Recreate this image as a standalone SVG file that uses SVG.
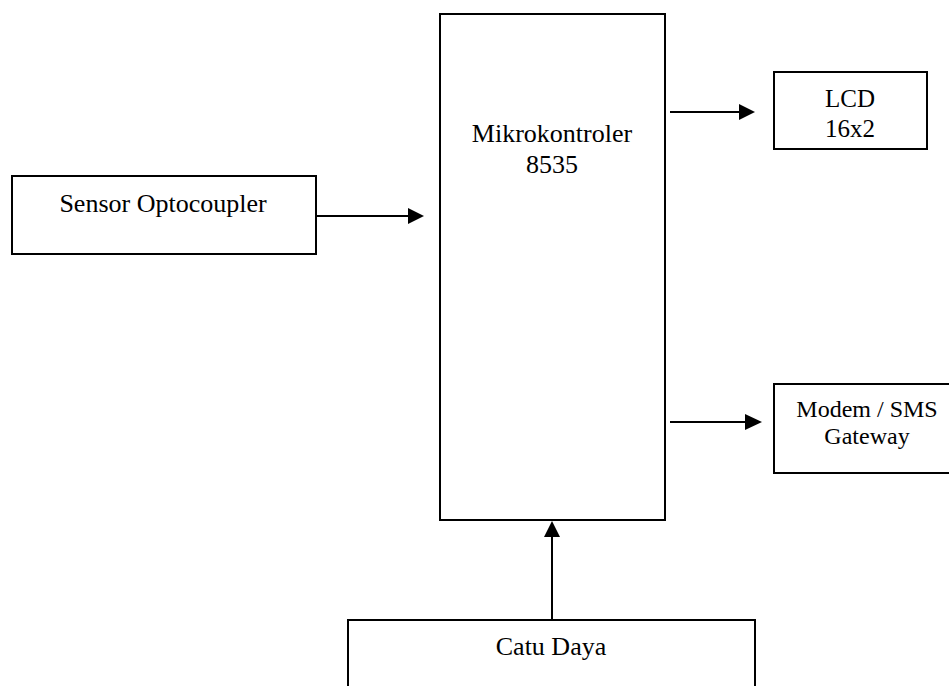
<svg xmlns="http://www.w3.org/2000/svg" width="949" height="686" viewBox="0 0 949 686">
<style>
.box{fill:#fff;stroke:#000;stroke-width:2}
.t{font-family:"Liberation Serif","Times New Roman",serif;fill:#000;text-anchor:middle}
.c{stroke:#000;stroke-width:2;fill:none}
.h{fill:#000;stroke:none}
</style>
<rect width="949" height="686" fill="#fff"/>
<g id="sensor">
<rect class="box" x="12" y="176" width="304" height="78"/>
<text class="t" x="163" y="212" font-size="26">Sensor Optocoupler</text>
</g>
<g id="mikro">
<rect class="box" x="440" y="14" width="225" height="506"/>
<text class="t" x="552" y="142" font-size="26">Mikrokontroler</text>
<text class="t" x="552" y="173" font-size="26">8535</text>
</g>
<g id="lcd">
<rect class="box" x="774" y="72" width="153" height="77"/>
<text class="t" x="850" y="107" font-size="25">LCD</text>
<text class="t" x="850" y="137" font-size="25">16x2</text>
</g>
<g id="modem">
<rect class="box" x="774" y="384" width="190" height="89"/>
<text class="t" x="867" y="417" font-size="24">Modem / SMS</text>
<text class="t" x="867" y="444" font-size="24">Gateway</text>
</g>
<g id="catu">
<path class="c" d="M348 690 V620 H755 V690"/>
<text class="t" x="551" y="655" font-size="26">Catu Daya</text>
</g>
<g id="connectors">
<line class="c" x1="316" y1="216" x2="409" y2="216"/>
<polygon class="h" points="408,208 424,216 408,224"/>
<line class="c" x1="670" y1="112" x2="740" y2="112"/>
<polygon class="h" points="739,104 755,112 739,120"/>
<line class="c" x1="670" y1="422" x2="746" y2="422"/>
<polygon class="h" points="745,414 762,422 745,430"/>
<line class="c" x1="552" y1="620" x2="552" y2="536"/>
<polygon class="h" points="544,537 552,521 560,537"/>
</g>
</svg>
